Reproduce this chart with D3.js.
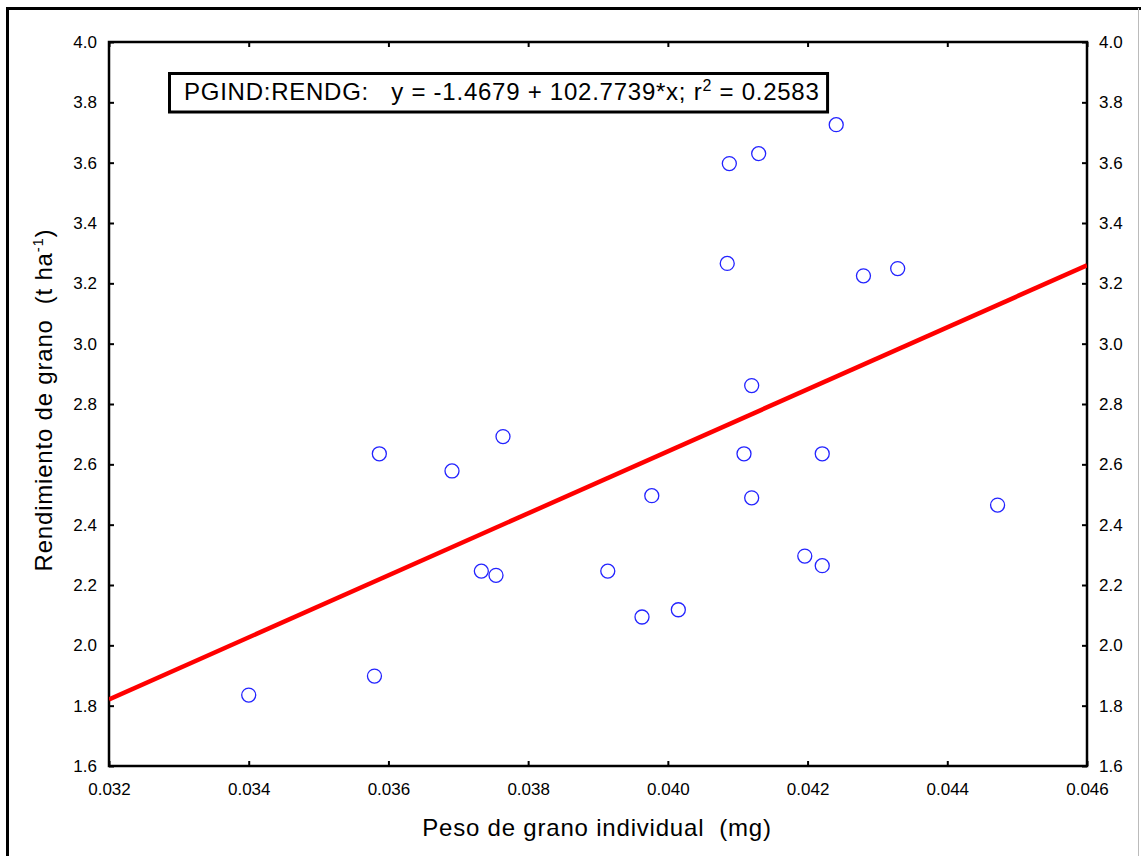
<!DOCTYPE html>
<html>
<head>
<meta charset="utf-8">
<script src="https://cdn.jsdelivr.net/npm/d3@7"></script>
<style>
  html, body { margin: 0; padding: 0; background: #fff; }
  svg { display: block; font-family: "Liberation Sans", Arial, sans-serif; }
</style>
</head>
<body>
<svg id="chart" width="1141" height="856"></svg>
<script>
// Individual grain weight (mg) vs grain yield (t/ha)
const pesoGrano = [
  0.03400, 0.03580, 0.03587, 0.03691, 0.03764, 0.03733, 0.03754, 0.03914,
  0.03977, 0.03963, 0.04015, 0.04088, 0.04130, 0.04085, 0.04120, 0.04109,
  0.04120, 0.04196, 0.04221, 0.04221, 0.04241, 0.04280, 0.04329, 0.04472
];
const rendimiento = [
  1.835, 1.898, 2.635, 2.578, 2.692, 2.246, 2.232, 2.246,
  2.496, 2.094, 2.118, 3.597, 3.630, 3.266, 2.861, 2.635,
  2.489, 2.296, 2.264, 2.635, 3.726, 3.225, 3.249, 2.465
];

// Fitted regression: y = a + b*x
const intercepto = -1.4679;
const pendiente = 102.7739;
const r2 = 0.2583;

const xTicks = [0.032, 0.034, 0.036, 0.038, 0.040, 0.042, 0.044, 0.046];
const yTicks = [1.6, 1.8, 2.0, 2.2, 2.4, 2.6, 2.8, 3.0, 3.2, 3.4, 3.6, 3.8, 4.0];
const xDomain = [0.032, 0.046];
const yDomain = [1.6, 4.0];

const svg = d3.select("#chart");

// outer frame
svg.append("line").attr("x1", 7.5).attr("y1", 8.5).attr("x2", 7.5).attr("y2", 856)
  .attr("stroke", "#000").attr("stroke-width", 3);
svg.append("line").attr("x1", 6).attr("y1", 8.5).attr("x2", 1141).attr("y2", 8.5)
  .attr("stroke", "#000").attr("stroke-width", 3);
svg.append("line").attr("x1", 1138.5).attr("y1", 8).attr("x2", 1138.5).attr("y2", 856)
  .attr("stroke", "#bbb").attr("stroke-width", 1);

const plot = { left: 109, top: 42, right: 1087, bottom: 766 };
const x = d3.scaleLinear().domain(xDomain).range([plot.left, plot.right]);
const y = d3.scaleLinear().domain(yDomain).range([plot.bottom, plot.top]);

const fmtX = d3.format(".3f");
const fmtY = d3.format(".1f");

function styleAxis(g) {
  g.select(".domain").remove();
  g.selectAll(".tick line").attr("stroke", "#000").attr("stroke-width", 2);
  g.selectAll(".tick text").attr("font-size", 17).attr("fill", "#000")
    .attr("font-family", "'Liberation Sans', Arial, sans-serif");
}

// bottom axis (ticks inward)
svg.append("g").attr("transform", `translate(0,${plot.bottom})`)
  .call(d3.axisBottom(x).tickValues(xTicks).tickFormat(fmtX).tickSizeInner(-5).tickSizeOuter(0).tickPadding(17))
  .call(styleAxis);
// top axis, ticks only
svg.append("g").attr("transform", `translate(0,${plot.top})`)
  .call(d3.axisTop(x).tickValues(xTicks).tickFormat("").tickSizeInner(-5).tickSizeOuter(0))
  .call(styleAxis);
// left axis
svg.append("g").attr("transform", `translate(${plot.left},0)`)
  .call(d3.axisLeft(y).tickValues(yTicks).tickFormat(fmtY).tickSizeInner(-5).tickSizeOuter(0).tickPadding(12))
  .call(styleAxis);
// right axis
svg.append("g").attr("transform", `translate(${plot.right},0)`)
  .call(d3.axisRight(y).tickValues(yTicks).tickFormat(fmtY).tickSizeInner(-5).tickSizeOuter(0).tickPadding(12))
  .call(styleAxis);

// plot frame
svg.append("rect")
  .attr("x", plot.left).attr("y", plot.top)
  .attr("width", plot.right - plot.left).attr("height", plot.bottom - plot.top)
  .attr("fill", "none").attr("stroke", "#000").attr("stroke-width", 2.5);

// clip for the regression line
svg.append("clipPath").attr("id", "plotClip")
  .append("rect").attr("x", plot.left).attr("y", plot.top)
  .attr("width", plot.right - plot.left).attr("height", plot.bottom - plot.top);

const lineData = xDomain.map(v => ({ x: v, y: intercepto + pendiente * v }));
svg.append("path")
  .datum(lineData)
  .attr("clip-path", "url(#plotClip)")
  .attr("d", d3.line().x(d => x(d.x)).y(d => y(d.y)))
  .attr("fill", "none").attr("stroke", "#ff0000").attr("stroke-width", 4.5);

// data points
svg.append("g").selectAll("circle")
  .data(pesoGrano.map((v, i) => ({ x: v, y: rendimiento[i] })))
  .join("circle")
  .attr("cx", d => x(d.x)).attr("cy", d => y(d.y)).attr("r", 7)
  .attr("fill", "none").attr("stroke", "#2323ff").attr("stroke-width", 1.3);

// equation box
const legendG = svg.append("g");
const legendText = legendG.append("text")
  .attr("x", 184).attr("y", 100)
  .attr("font-size", 24).attr("fill", "#000")
  .attr("letter-spacing", 0.75)
  .style("white-space", "pre");
legendText.append("tspan").text("PGIND:RENDG:   y = " + intercepto.toFixed(4) + " + " + pendiente.toFixed(4) + "*x; r");
legendText.append("tspan").attr("font-size", 16).attr("dy", -9).text("2");
legendText.append("tspan").attr("dy", 9).text(" = " + r2.toFixed(4));
const bb = legendText.node().getBBox();
legendG.insert("rect", "text")
  .attr("x", 169.5).attr("y", 73.5)
  .attr("width", bb.x + bb.width + 8 - 169.5).attr("height", 38.5)
  .attr("fill", "#fff").attr("stroke", "#000").attr("stroke-width", 3);

// axis titles
svg.append("text")
  .attr("x", (plot.left + plot.right) / 2 - 1).attr("y", 836)
  .attr("text-anchor", "middle").attr("font-size", 24).attr("fill", "#000")
  .attr("letter-spacing", 0.8)
  .style("white-space", "pre")
  .text("Peso de grano individual  (mg)");

const yTitle = svg.append("text")
  .attr("transform", `translate(52,400) rotate(-90)`)
  .attr("text-anchor", "middle").attr("font-size", 24).attr("fill", "#000")
  .attr("letter-spacing", 0.8)
  .style("white-space", "pre");
yTitle.append("tspan").text("Rendimiento de grano  (t ha");
yTitle.append("tspan").attr("font-size", 15).attr("dy", -9).text("-1");
yTitle.append("tspan").attr("dy", 9).text(")");
</script>
</body>
</html>
